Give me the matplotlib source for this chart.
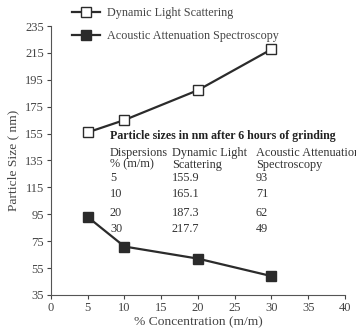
import matplotlib
matplotlib.use('Agg')
import matplotlib.pyplot as plt

plt.rcParams['font.family'] = ['Liberation Serif', 'DejaVu Serif']

conc = [5, 10, 20, 30]
dls = [155.9, 165.1, 187.3, 217.7]
aas = [93, 71, 62, 49]

xticks = [0, 5, 10, 15, 20, 25, 30, 35, 40]
yticks = [35, 55, 75, 95, 115, 135, 155, 175, 195, 215, 235]

table_title = 'Particle sizes in nm after 6 hours of grinding'
col_heads = ['Dispersions\n% (m/m)', 'Dynamic Light\nScattering', 'Acoustic Attenuation\nSpectroscopy']

fig = plt.figure(figsize=(3.56, 3.34), dpi=100)
ax = fig.add_axes([0.143, 0.117, 0.826, 0.805])

lc = '#2b2b2b'
ax.plot(conc, dls, '-s', color=lc, lw=1.6, ms=7.5, mfc='white', mec=lc, mew=1.0,
        label='Dynamic Light Scattering', clip_on=False)
ax.plot(conc, aas, '-s', color=lc, lw=1.6, ms=7.5, mfc=lc, mec=lc,
        label='Acoustic Attenuation Spectroscopy', clip_on=False)

ax.set_xlim(0, 40)
ax.set_ylim(35, 235)
ax.set_xticks(xticks)
ax.set_yticks(yticks)
ax.tick_params(labelsize=9, color='#444444', length=3, colors='#444444', pad=2)
for s in ['top', 'right']:
    ax.spines[s].set_visible(False)
for s in ['left', 'bottom']:
    ax.spines[s].set_color('#555555')
    ax.spines[s].set_linewidth(0.8)

ax.set_xlabel('% Concentration (m/m)', fontsize=9.7, color='#444444', labelpad=2)
ax.set_ylabel('Particle Size ( nm)', fontsize=9.7, color='#444444', labelpad=4)

fig.legend(*ax.get_legend_handles_labels(), loc='upper left',
           bbox_to_anchor=(72 / 356, 1 - 7 / 334), frameon=False,
           fontsize=8.7, labelcolor='#444444', handlelength=2.3, borderpad=0,
           borderaxespad=0, labelspacing=0.95, handletextpad=0.6)

# inset table (the reference cuts the last column at the right edge too)
tc = '#333333'
fs = 8.8
fig.text(110 / 356, 1 - 136 / 334, table_title, fontsize=8.6, fontweight='bold',
         color='#222222', va='center')
colx = [110, 172, 256]
for x, h in zip(colx, col_heads):
    fig.text(x / 356, 1 - 159 / 334, h, fontsize=fs, color=tc, va='center',
             linespacing=0.95)
rowy = [178, 194, 213, 229]
for y, c, d, a in zip(rowy, conc, dls, aas):
    fig.text(colx[0] / 356, 1 - y / 334, str(c), fontsize=fs, color=tc, va='center')
    fig.text(colx[1] / 356, 1 - y / 334, '%.1f' % d, fontsize=fs, color=tc, va='center')
    fig.text(colx[2] / 356, 1 - y / 334, str(a), fontsize=fs, color=tc, va='center')

fig.savefig('out.png', dpi=100)
